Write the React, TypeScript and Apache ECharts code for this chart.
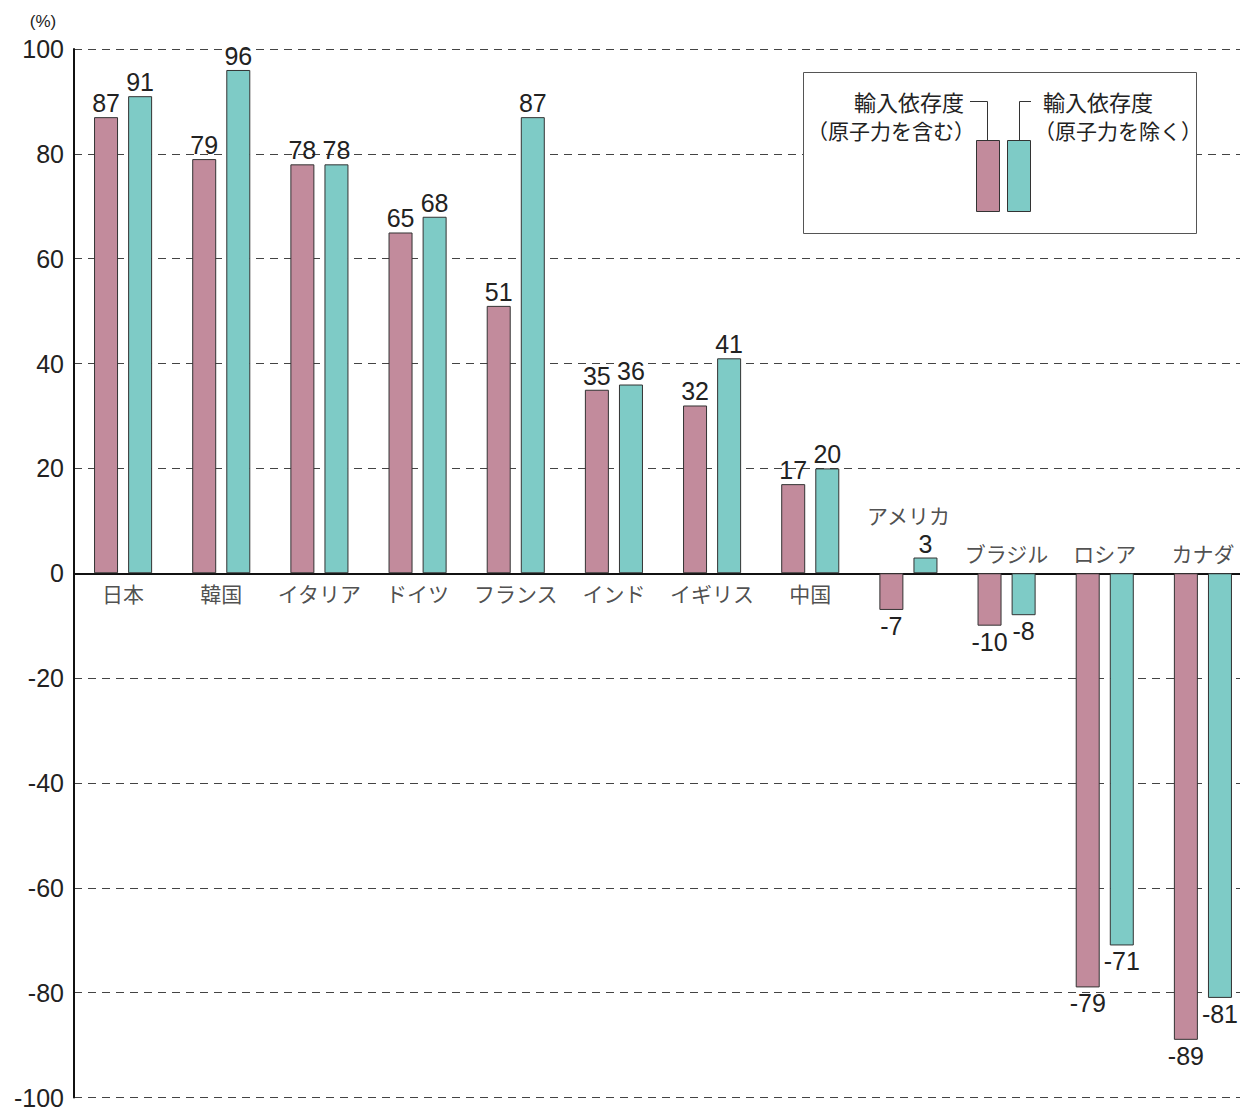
import React, { useEffect, useRef } from "react";
import * as echarts from "echarts";

const categories = ["日本", "韓国", "イタリア", "ドイツ", "フランス", "インド", "イギリス", "中国", "アメリカ", "ブラジル", "ロシア", "カナダ"];
const withNuclear = [87, 79, 78, 65, 51, 35, 32, 17, -7, -10, -79, -89];
const withoutNuclear = [91, 96, 78, 68, 87, 36, 41, 20, 3, -8, -71, -81];
const yTicks = { min: -100, max: 100, interval: 20 };
const legendTitle = "輸入依存度";
const legendWith = "（原子力を含む）";
const legendWithout = "（原子力を除く）";
const unitLabel = "(%)";

const PINK = "#c28b9c";
const TEAL = "#7ecbc6";
const EDGE = "#333";
const TXT = "#222";
const NUM_FONT = "'Liberation Sans', Arial, sans-serif";
const JP_FONT = "'Noto Sans CJK JP', sans-serif";

function barData(values: number[]) {
  return values.map((v) => ({
    value: v,
    label: { position: v >= 0 ? "top" : "bottom", distance: v >= 0 ? 3 : 5 },
  }));
}

export default function App() {
  const ref = useRef<HTMLDivElement>(null);
  useEffect(() => {
    if (!ref.current) return;
    const chart = echarts.init(ref.current, null, { renderer: "svg" });
    const catLabelData = categories.map((c, i) => {
      const a = withNuclear[i];
      const b = withoutNuclear[i];
      const mn = Math.min(a, b);
      const mx = Math.max(a, b);
      if (mn >= 0) {
        return { value: 0, name: c, label: { position: "bottom", distance: 11 } };
      }
      if (mx > 0) {
        return { value: 0, name: c, label: { position: "top", distance: 49 } };
      }
      return { value: 0, name: c, label: { position: "top", distance: 11 } };
    });
    const barLabel = {
      show: true,
      fontSize: 25,
      lineHeight: 22,
      fontFamily: NUM_FONT,
      color: TXT,
    };
    const jpText = (text: string, x: number, y: number, align: string, size: number) => ({
      type: "text",
      x,
      y,
      style: { text, fontSize: size, lineHeight: size + 2, fontFamily: JP_FONT, fill: TXT, align, verticalAlign: "middle" },
      z: 11,
    });
    chart.setOption({
      animation: false,
      backgroundColor: "#fff",
      grid: { left: 74, right: 0, top: 49, bottom: 11 },
      xAxis: {
        type: "category",
        data: categories,
        axisLine: { onZero: true, lineStyle: { color: "#111", width: 2 } },
        axisTick: { show: false },
        axisLabel: { show: false },
        splitLine: { show: false },
      },
      yAxis: {
        type: "value",
        min: yTicks.min,
        max: yTicks.max,
        interval: yTicks.interval,
        name: unitLabel,
        nameLocation: "end",
        nameGap: 19,
        nameTextStyle: {
          fontSize: 17,
          fontFamily: NUM_FONT,
          color: TXT,
          align: "center",
          padding: [0, 62, 0, 0],
        },
        axisLine: { show: true, lineStyle: { color: "#111", width: 2 } },
        axisTick: { show: false },
        axisLabel: { fontSize: 25, fontFamily: NUM_FONT, color: TXT, margin: 10 },
        splitLine: { show: true, lineStyle: { color: "#444", width: 1, type: [8, 6] } },
      },
      series: [
        {
          type: "bar",
          name: legendWith,
          data: barData(withNuclear),
          barWidth: 24,
          barGap: "42%",
          itemStyle: { color: PINK, borderColor: EDGE, borderWidth: 1 },
          label: barLabel,
          silent: true,
        },
        {
          type: "bar",
          name: legendWithout,
          data: barData(withoutNuclear),
          barWidth: 24,
          barGap: "42%",
          itemStyle: { color: TEAL, borderColor: EDGE, borderWidth: 1 },
          label: barLabel,
          silent: true,
        },
        {
          type: "scatter",
          data: catLabelData,
          symbolSize: 0,
          silent: true,
          label: {
            show: true,
            formatter: (p: any) => p.name,
            fontSize: 21,
            lineHeight: 18,
            fontFamily: JP_FONT,
            color: TXT,
          },
          z: 5,
        },
      ],
      graphic: [
        {
          type: "rect",
          shape: { x: 803.5, y: 72.5, width: 393, height: 161 },
          style: { fill: "#fff", stroke: "#555", lineWidth: 1 },
          z: 10,
        },
        {
          type: "rect",
          shape: { x: 976.5, y: 140.5, width: 23, height: 71 },
          style: { fill: PINK, stroke: EDGE, lineWidth: 1 },
          z: 11,
        },
        {
          type: "rect",
          shape: { x: 1007.5, y: 140.5, width: 23, height: 71 },
          style: { fill: TEAL, stroke: EDGE, lineWidth: 1 },
          z: 11,
        },
        {
          type: "polyline",
          shape: { points: [[970, 101.5], [987.5, 101.5], [987.5, 140]] },
          style: { stroke: EDGE, lineWidth: 1, fill: "none" },
          z: 11,
        },
        {
          type: "polyline",
          shape: { points: [[1031, 101.5], [1019.5, 101.5], [1019.5, 140]] },
          style: { stroke: EDGE, lineWidth: 1, fill: "none" },
          z: 11,
        },
        jpText(legendTitle, 964, 101, "right", 22),
        jpText(legendWith, 975, 130, "right", 21),
        jpText(legendTitle, 1043, 101, "left", 22),
        jpText(legendWithout, 1034, 130, "left", 21),
      ],
    });
    return () => chart.dispose();
  }, []);
  return (
    <div style={{ position: "fixed", left: 0, top: 0, width: 1240, height: 1110, overflow: "hidden" }}>
      <div ref={ref} style={{ position: "absolute", left: 0, top: 0, width: 1252, height: 1110 }} />
    </div>
  );
}
